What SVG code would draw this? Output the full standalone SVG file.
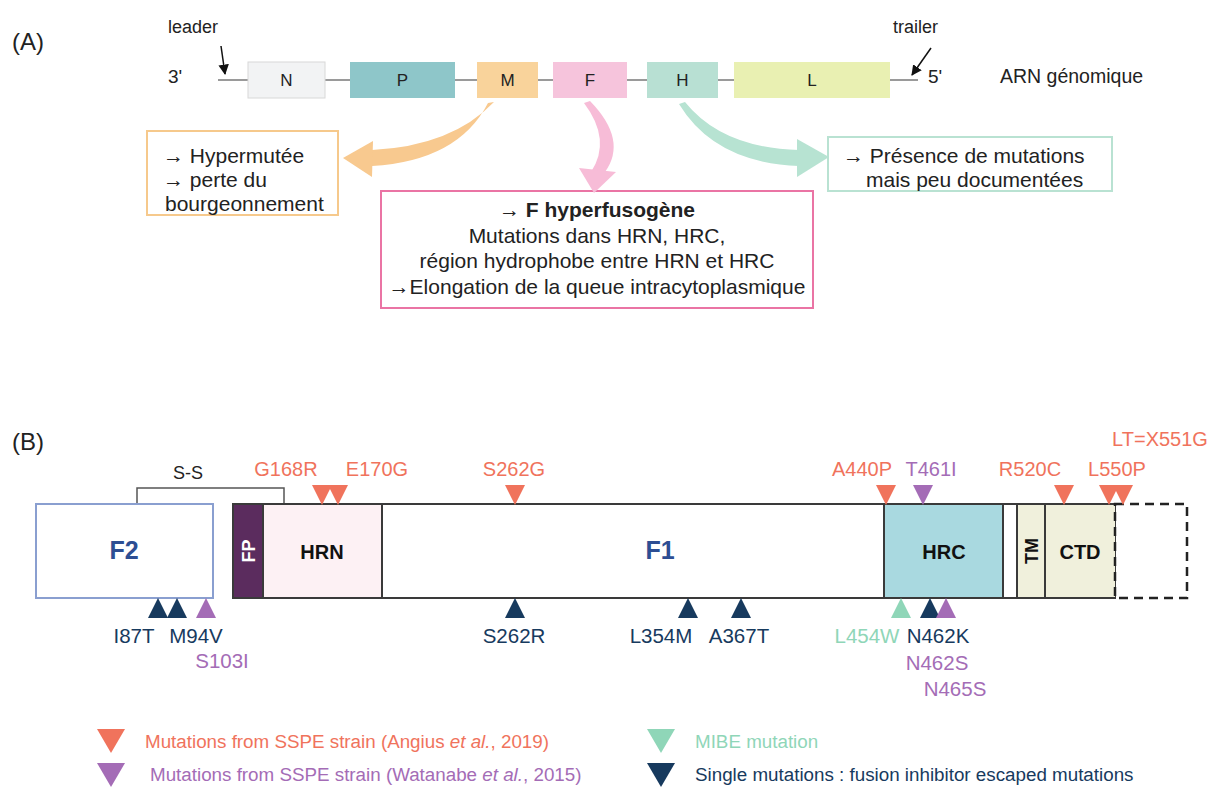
<svg xmlns="http://www.w3.org/2000/svg" width="1213" height="787" viewBox="0 0 1213 787">
<style>
text{font-family:"Liberation Sans",Arial,sans-serif}
.lbl{font-size:19px;fill:#222}
.gene{font-size:17px;fill:#222;text-anchor:middle}
.box{font-size:21px;fill:#222}
.mut{font-size:20.5px;text-anchor:middle}
.mt{font-size:20px}
.red{fill:#f0735c}
.pur{fill:#a46cb6}
.nav{fill:#173a5e}
.grn{fill:#8fd6b8}
.leg{font-size:18.8px}
.dom{font-weight:bold;font-size:20px;fill:#111;text-anchor:middle}
.big{font-weight:bold;font-size:25px;fill:#2d4e93;text-anchor:middle}
</style>
<defs>
<marker id="ah" viewBox="0 0 10 10" refX="9" refY="5" markerWidth="7" markerHeight="7" orient="auto"><path d="M0,0 L10,5 L0,10 z" fill="#111"/></marker>
<path id="tdn" d="M-10,-20 L10,-20 L0,0 z"/>
<path id="tup" d="M-10,20 L10,20 L0,0 z"/>
</defs>
<rect width="1213" height="787" fill="#fff"/>

<!-- Panel A -->
<text x="12" y="50" style="font-size:24px" fill="#222">(A)</text>
<text x="168" y="33" class="lbl" style="font-size:18px">leader</text>
<text x="893" y="33" class="lbl" style="font-size:18px">trailer</text>
<text x="168" y="83" class="lbl">3'</text>
<text x="928" y="83" class="lbl">5'</text>
<text x="1000" y="83" class="lbl" style="font-size:19.5px">ARN génomique</text>
<line x1="218" y1="80" x2="918" y2="80" stroke="#9a9a9a" stroke-width="2"/>

<g id="gene-N"><rect x="248" y="62" width="77" height="36" fill="#f2f3f4" stroke="#d8d8d8"/><text x="286.5" y="86" class="gene">N</text></g>
<g id="gene-P"><rect x="350" y="62" width="105" height="36" fill="#8ec6c9"/><text x="402.5" y="86" class="gene">P</text></g>
<g id="gene-M"><rect x="477" y="62" width="61" height="36" fill="#f9d39b"/><text x="507.5" y="86" class="gene">M</text></g>
<g id="gene-F"><rect x="553" y="62" width="74" height="36" fill="#f6c4dc"/><text x="590" y="86" class="gene">F</text></g>
<g id="gene-H"><rect x="647" y="62" width="71" height="36" fill="#b8e0d3"/><text x="682.5" y="86" class="gene">H</text></g>
<g id="gene-L"><rect x="734" y="62" width="156" height="36" fill="#e9f0b2"/><text x="812" y="86" class="gene">L</text></g>

<g id="box-M">
<rect x="147" y="131" width="191" height="84" fill="#fff" stroke="#f6c98c" stroke-width="2"/>
<text x="163" y="163" class="box">→ Hypermutée</text>
<text x="163" y="187" class="box">→ perte du</text>
<text x="165" y="211" class="box">bourgeonnement</text>
</g>
<g id="box-F">
<rect x="381" y="191" width="432" height="117" fill="#fff" stroke="#ea74a4" stroke-width="2"/>
<text x="597" y="217" class="box" text-anchor="middle" font-weight="bold">→ F hyperfusogène</text>
<text x="597" y="243" class="box" text-anchor="middle">Mutations dans HRN, HRC,</text>
<text x="597" y="268" class="box" text-anchor="middle">région hydrophobe entre HRN et HRC</text>
<text x="597" y="294" class="box" text-anchor="middle">→Elongation de la queue intracytoplasmique</text>
</g>
<g id="box-H">
<rect x="828" y="137" width="284" height="54" fill="#fff" stroke="#b9e2d2" stroke-width="2"/>
<text x="843" y="163" class="box">→ Présence de mutations</text>
<text x="866" y="187" class="box">mais peu documentées</text>
</g>

<g id="connectors">
<line x1="221" y1="46" x2="225" y2="74" stroke="#111" stroke-width="1.5" marker-end="url(#ah)"/>
<line x1="931" y1="48" x2="912" y2="75" stroke="#111" stroke-width="1.5" marker-end="url(#ah)"/>
<path d="M494,102 Q452,146 372,150 L372,166 Q458,161 488,103 Z" fill="#f8c98f"/>
<path d="M343,158 L373,141 L372,177 Z" fill="#f8c98f"/>
<path d="M590,101 Q628,140 605,172 L591,172 Q612,140 584,103 Z" fill="#f7bcd7"/>
<path d="M579,168 L616,172 L594,193 Z" fill="#f7bcd7"/>
<path d="M685,102 Q722,148 799,150 L799,166 Q715,163 679,104 Z" fill="#b7e3d2"/>
<path d="M797,139 L829,157 L797,177 Z" fill="#b7e3d2"/>
<path d="M137,504 L137,488 L284,488 L284,504" fill="none" stroke="#555" stroke-width="1.5"/>
</g>

<!-- Panel B -->
<text x="12" y="450" style="font-size:24px" fill="#222">(B)</text>
<text x="188" y="479" style="font-size:18px" fill="#222" text-anchor="middle">S-S</text>

<g id="F2"><rect x="36" y="504" width="177" height="94" fill="#fff" stroke="#8a9fd0" stroke-width="2"/><text x="124" y="559" class="big">F2</text></g>
<g id="F1"><rect x="233" y="504" width="882" height="94" fill="#fff" stroke="#3a3a3a" stroke-width="2"/><text x="660" y="559" class="big">F1</text></g>
<g id="FP"><rect x="233" y="504" width="30" height="94" fill="#5b2c5e" stroke="#3a3a3a" stroke-width="2"/><text transform="translate(255,551) rotate(-90)" class="dom" style="fill:#fff;font-size:18px">FP</text></g>
<g id="HRN"><rect x="263" y="504" width="119" height="94" fill="#fdf1f4" stroke="#3a3a3a" stroke-width="2"/><text x="322" y="559" class="dom">HRN</text></g>
<g id="HRC"><rect x="884" y="504" width="119" height="94" fill="#a9d9e0" stroke="#3a3a3a" stroke-width="2"/><text x="944" y="559" class="dom">HRC</text></g>
<g id="TM"><rect x="1017" y="504" width="28" height="94" fill="#f0f0dc" stroke="#3a3a3a" stroke-width="2"/><text transform="translate(1038,551) rotate(-90)" class="dom" style="font-size:18px">TM</text></g>
<g id="CTD"><rect x="1045" y="504" width="70" height="94" fill="#f0f0dc"/><path d="M1115,504 L1045,504 L1045,598 L1115,598" fill="none" stroke="#3a3a3a" stroke-width="2"/><text x="1080" y="559" class="dom">CTD</text></g>
<g id="tail"><path d="M1115,504 L1187,504 L1187,598 L1115,598 Z" fill="none" stroke="#222" stroke-width="2.5" stroke-dasharray="9,6"/></g>

<g id="mut-top">
<use href="#tdn" x="322" y="505" class="red"/><use href="#tdn" x="338" y="505" class="red"/>
<use href="#tdn" x="515" y="505" class="red"/>
<use href="#tdn" x="886" y="505" class="red"/>
<use href="#tdn" x="923" y="505" class="pur"/>
<use href="#tdn" x="1064" y="505" class="red"/>
<use href="#tdn" x="1109" y="505" class="red"/><use href="#tdn" x="1123" y="505" class="red"/>
<text x="286" y="476" class="mut mt red">G168R</text>
<text x="377" y="476" class="mut mt red">E170G</text>
<text x="514" y="476" class="mut mt red">S262G</text>
<text x="862" y="476" class="mut mt red">A440P</text>
<text x="931" y="476" class="mut mt pur">T461I</text>
<text x="1030" y="476" class="mut mt red">R520C</text>
<text x="1117" y="476" class="mut mt red">L550P</text>
<text x="1160" y="446" class="mut mt red">LT=X551G</text>
</g>
<g id="mut-bottom">
<use href="#tup" x="158" y="598" class="nav"/><use href="#tup" x="177" y="598" class="nav"/>
<use href="#tup" x="206" y="598" class="pur"/>
<use href="#tup" x="515" y="598" class="nav"/>
<use href="#tup" x="688" y="598" class="nav"/>
<use href="#tup" x="741" y="598" class="nav"/>
<use href="#tup" x="901" y="598" class="grn"/>
<use href="#tup" x="930" y="598" class="nav"/>
<use href="#tup" x="946" y="598" class="pur"/>
<text x="134" y="643" class="mut nav">I87T</text>
<text x="196" y="643" class="mut nav">M94V</text>
<text x="222" y="668" class="mut pur">S103I</text>
<text x="514" y="643" class="mut nav">S262R</text>
<text x="661" y="643" class="mut nav">L354M</text>
<text x="739" y="643" class="mut nav">A367T</text>
<text x="867" y="643" class="mut grn">L454W</text>
<text x="938" y="643" class="mut nav">N462K</text>
<text x="937" y="670" class="mut pur">N462S</text>
<text x="955" y="696" class="mut pur">N465S</text>
</g>

<g id="legend">
<path d="M97,729 L125,729 L111,753 Z" class="red"/>
<path d="M97,763 L125,763 L111,787 Z" class="pur"/>
<path d="M647,729 L675,729 L661,753 Z" class="grn"/>
<path d="M647,763 L675,763 L661,787 Z" class="nav"/>
<text x="145" y="748" class="leg red">Mutations from SSPE strain (Angius <tspan font-style="italic">et al.</tspan>, 2019)</text>
<text x="150" y="781" class="leg pur">Mutations from SSPE strain (Watanabe <tspan font-style="italic">et al.</tspan>, 2015)</text>
<text x="695" y="748" class="leg grn">MIBE mutation</text>
<text x="695" y="781" class="leg nav">Single mutations : fusion inhibitor escaped mutations</text>
</g>
</svg>
